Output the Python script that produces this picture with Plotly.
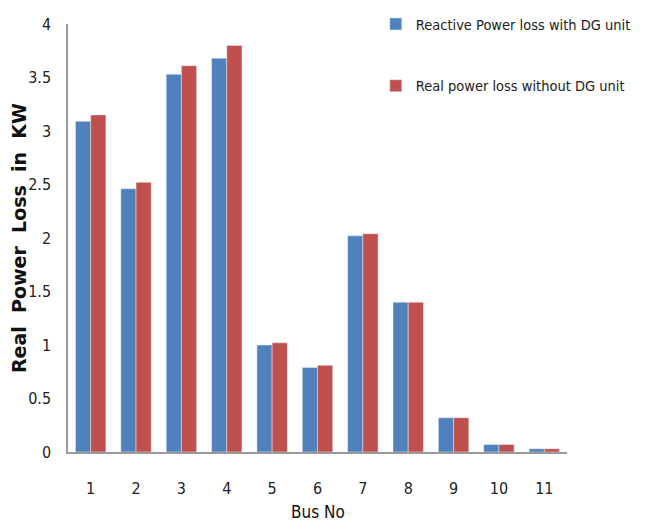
import plotly.graph_objects as go

buses = ["1", "2", "3", "4", "5", "6", "7", "8", "9", "10", "11"]
reactive_with_dg = [3.09, 2.46, 3.53, 3.68, 1.00, 0.79, 2.02, 1.40, 0.32, 0.07, 0.03]
real_without_dg = [3.15, 2.52, 3.61, 3.80, 1.02, 0.81, 2.04, 1.40, 0.32, 0.07, 0.03]
y_ticks = [0, 0.5, 1, 1.5, 2, 2.5, 3, 3.5, 4]
y_tick_text = ["0", "0.5", "1", "1.5", "2", "2.5", "3", "3.5", "4"]

FONT = "DejaVu Sans Condensed, Liberation Sans Narrow, sans-serif"

fig = go.Figure()
fig.add_trace(go.Bar(x=buses, y=reactive_with_dg, name="Reactive Power loss with DG unit",
                     marker=dict(color="#4F81BD"), legendgroup="a"))
fig.add_trace(go.Bar(x=buses, y=real_without_dg, name="Real power loss without DG unit",
                     marker=dict(color="#C0504D"), legendgroup="b"))

fig.update_layout(
    width=643, height=513,
    margin=dict(l=60, r=84, t=16, b=69, autoexpand=False),
    paper_bgcolor="white", plot_bgcolor="white",
    barmode="group", bargap=0.33, bargroupgap=0,
    font=dict(family=FONT, size=15, color="#222222"),
    legend=dict(x=0.572, y=1.0, xref="container", yref="container", xanchor="left", yanchor="top",
                bgcolor="rgba(0,0,0,0)", tracegroupgap=40,
                font=dict(family=FONT, size=14.5, color="#222222"),
                itemwidth=30),
    showlegend=True,
    annotations=[dict(text="Bus No", x=0.5, y=-0.14, xref="paper", yref="paper",
                      xanchor="center", yanchor="middle", showarrow=False,
                      font=dict(family=FONT, size=17, color="#111111"))],
)
fig.update_xaxes(
    showline=True, linecolor="#9a9a9a", linewidth=2,
    ticks="", showgrid=False, ticklabelstandoff=21,
    tickfont=dict(family=FONT, size=16),
)
fig.update_yaxes(
    range=[0, 4], tickvals=y_ticks, ticktext=y_tick_text,
    showline=True, linecolor="#9a9a9a", linewidth=1.5,
    ticks="", showgrid=False, zeroline=False, ticklabelstandoff=12,
    tickfont=dict(family=FONT, size=16),
    title=dict(text="<b>Real  Power  Loss  in  KW</b>", standoff=6,
               font=dict(family="DejaVu Sans, sans-serif", size=19, color="#111111")),
)

fig.write_html("out.html")
